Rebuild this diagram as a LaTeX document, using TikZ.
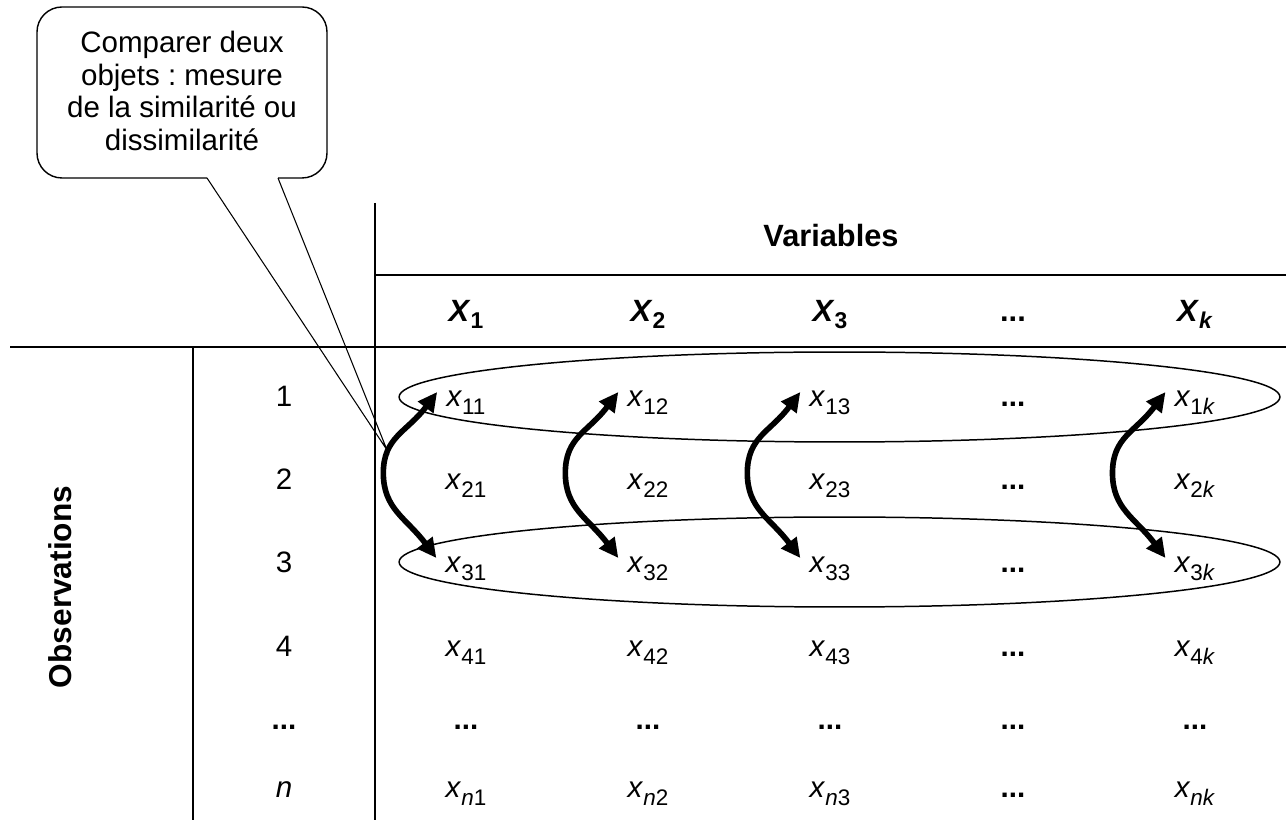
\documentclass[tikz,border=0pt]{standalone}
\usepackage{fontspec}
\setmainfont{Liberation Sans}
\usetikzlibrary{arrows.meta}
\frenchspacing
\newcommand{\xsub}[1]{\textit{x}\raisebox{-4.4pt}{\fontsize{12.8}{12.8}\selectfont #1}}
\newcommand{\Xsub}[1]{\textbf{\textit{X}}\raisebox{-3.8pt}{\fontsize{13}{13}\selectfont\bfseries #1}}
\tikzset{
  tbl/.style={line width=1.1pt},
  ring/.style={line width=0.85pt},
  cell/.style={inner sep=0pt, anchor=base, font=\fontsize{16.8}{18.5}\selectfont},
  head/.style={inner sep=0pt, anchor=base, font=\fontsize{17.5}{20}\selectfont\bfseries},
  dblarrow/.style={line width=3.2pt, {Triangle[length=11pt,width=10.5pt]}-{Triangle[length=11pt,width=10.5pt]}},
  bubble/.style={line width=0.8pt},
  pointer/.style={line width=0.6pt}
}
\begin{document}
\begin{tikzpicture}[x=0.02cm, y=-0.02cm]
\useasboundingbox (0,0) rectangle (1286,820);

% callout
\node[align=center, inner sep=0pt, font=\fontsize{16.8}{18.5}\selectfont] (callout) at (182,91)
  {Comparer deux\\objets : mesure\\de la similarité ou\\dissimilarité};
\coordinate (tip) at (387,450);
\draw[bubble, rounded corners=0.5cm] (207,178) -- (37,178) -- (37,7) -- (327,7) -- (327,178) -- (278,178);
\draw[pointer] (207,178) -- (tip) -- (278,178);

% table lines
\draw[tbl] (10,347) -- (1286,347);
\draw[tbl] (375,275) -- (1286,275);
\draw[tbl] (375,203) -- (375,820);
\draw[tbl] (193,347) -- (193,820);

% headers
\node[head] (vars) at (831,247) {Variables};
\node[inner sep=0pt, rotate=90, font=\fontsize{18}{20}\selectfont\bfseries] (obs) at (60,587) {Observations};
\node[head] (h1) at (466,322) {\Xsub{1}};
\node[head] (h2) at (648,322) {\Xsub{2}};
\node[head] (h3) at (830,322) {\Xsub{3}};
\node[head] (h4) at (1013,322) {...};
\node[head] (h5) at (1195,322) {\Xsub{\textit{k}}};

% row labels
\node[cell] (r1) at (284,407) {1};
\node[cell] (r2) at (284,490) {2};
\node[cell] (r3) at (284,573) {3};
\node[cell] (r4) at (284,657) {4};
\node[cell] (r5) at (284,730) {\bfseries ...};
\node[cell] (r6) at (284,798) {\textit{n}};

% cells
\foreach \r/\yy in {1/407,2/490,3/573,4/657}{
  \node[cell] (c\r1) at (466,\yy) {\xsub{\r1}};
  \node[cell] (c\r2) at (648,\yy) {\xsub{\r2}};
  \node[cell] (c\r3) at (830,\yy) {\xsub{\r3}};
  \node[cell] (c\r4) at (1013,\yy) {\bfseries ...};
  \node[cell] (c\r5) at (1195,\yy) {\xsub{\r\textit{k}}};
}
\node[cell] (c51) at (466,730) {\bfseries ...};
\node[cell] (c52) at (648,730) {\bfseries ...};
\node[cell] (c53) at (830,730) {\bfseries ...};
\node[cell] (c54) at (1013,730) {\bfseries ...};
\node[cell] (c55) at (1195,730) {\bfseries ...};
\node[cell] (c61) at (466,798) {\xsub{\textit{n}1}};
\node[cell] (c62) at (648,798) {\xsub{\textit{n}2}};
\node[cell] (c63) at (830,798) {\xsub{\textit{n}3}};
\node[cell] (c64) at (1013,798) {\bfseries ...};
\node[cell] (c65) at (1195,798) {\xsub{\textit{nk}}};

% ellipses round rows 1 and 3
\draw[ring] (839.5,397) ellipse [x radius=8.81cm, y radius=0.9cm];
\draw[ring] (839.5,562) ellipse [x radius=8.81cm, y radius=0.9cm];

% double arrows
\foreach \c in {1,2,3,5}{
  \coordinate (t\c) at ([shift={(-9,-15)}]c1\c.base west);
  \coordinate (m\c) at ([shift={(-62,-17)}]c2\c.base west);
  \coordinate (b\c) at ([shift={(-9,-15)}]c3\c.base west);
  \draw[dblarrow] (t\c) .. controls +(-30,40) and +(0,-36) .. (m\c) .. controls +(0,36) and +(-30,-40) .. (b\c);
}
\end{tikzpicture}
\end{document}
